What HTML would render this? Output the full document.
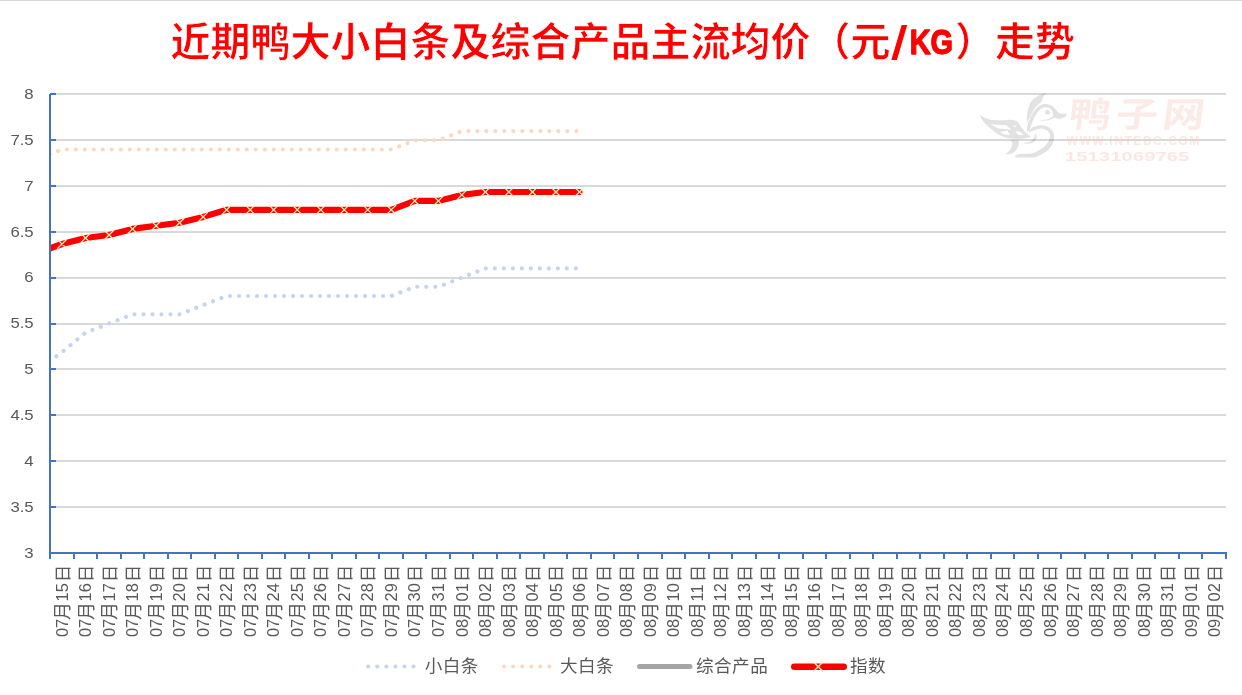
<!DOCTYPE html>
<html lang="zh-CN"><head><meta charset="utf-8"><title>近期鸭大小白条及综合产品主流均价（元/KG）走势</title>
<style>html,body{margin:0;padding:0;background:#fff;}body{width:1242px;height:695px;overflow:hidden;}svg{display:block;will-change:transform;}text{font-family:'Liberation Sans','Noto Sans CJK SC',sans-serif;}</style>
</head><body>
<svg width="1242" height="695" viewBox="0 0 1242 695">
<rect width="1242" height="695" fill="#fff"/>
<rect x="0" y="0" width="1242" height="1" fill="#D9D9D9"/>
<defs><clipPath id="plot"><rect x="50" y="84" width="1186" height="479"/></clipPath></defs>
<g fill="#D9D9D9">
<rect x="51" y="93" width="1175" height="2"/>
<rect x="51" y="139" width="1175" height="2"/>
<rect x="51" y="185" width="1175" height="2"/>
<rect x="51" y="231" width="1175" height="2"/>
<rect x="51" y="277" width="1175" height="2"/>
<rect x="51" y="323" width="1175" height="2"/>
<rect x="51" y="368" width="1175" height="2"/>
<rect x="51" y="414" width="1175" height="2"/>
<rect x="51" y="460" width="1175" height="2"/>
<rect x="51" y="506" width="1175" height="2"/>
</g>
<g id="title" font-weight="bold" fill="#FF0000">
<text x="170.4" y="56" font-size="40" stroke="#fff" stroke-width="0.7">近期鸭大小白条及综合产品主流均价（元</text>
<text font-size="47" transform="translate(891 58.9) skewX(-6)">/</text>
<text font-size="35.5" stroke="#FF0000" stroke-width="1.3" stroke-linejoin="round" transform="translate(909.7 53.7) scale(0.815 1)">KG</text>
<text x="955.1" y="56" font-size="40" stroke="#fff" stroke-width="0.7">）走势</text>
</g>
<g font-size="15.4" fill="#595959" text-anchor="end">
<text transform="translate(33.7 98.80) scale(1.09 1)">8</text>
<text transform="translate(33.7 144.70) scale(1.09 1)">7.5</text>
<text transform="translate(33.7 190.60) scale(1.09 1)">7</text>
<text transform="translate(33.7 236.50) scale(1.09 1)">6.5</text>
<text transform="translate(33.7 282.40) scale(1.09 1)">6</text>
<text transform="translate(33.7 328.30) scale(1.09 1)">5.5</text>
<text transform="translate(33.7 374.20) scale(1.09 1)">5</text>
<text transform="translate(33.7 420.10) scale(1.09 1)">4.5</text>
<text transform="translate(33.7 466.00) scale(1.09 1)">4</text>
<text transform="translate(33.7 511.90) scale(1.09 1)">3.5</text>
<text transform="translate(33.7 557.80) scale(1.09 1)">3</text>
</g>
<g clip-path="url(#plot)" fill="none" stroke-linejoin="round">
<path id="sblue" d="M38.49 369.40 L62.01 352.10 L85.53 332.70 L109.05 323.50 L132.57 314.30 L156.09 314.30 L179.61 314.30 L203.13 305.10 L226.65 296.00 L250.17 296.00 L273.69 296.00 L297.21 296.00 L320.73 296.00 L344.25 296.00 L367.77 296.00 L391.29 296.00 L414.81 286.80 L438.33 286.80 L461.85 277.60 L485.37 268.40 L508.89 268.40 L532.41 268.40 L555.93 268.40 L579.45 268.40" stroke="#C6D4ED" stroke-width="4.2" stroke-linecap="round" stroke-dasharray="0.01 8.99" stroke-dashoffset="4.9"/>
<path id="sorange" d="M38.49 158.66 L62.01 149.48 L85.53 149.48 L109.05 149.48 L132.57 149.48 L156.09 149.48 L179.61 149.48 L203.13 149.48 L226.65 149.48 L250.17 149.48 L273.69 149.48 L297.21 149.48 L320.73 149.48 L344.25 149.48 L367.77 149.48 L391.29 149.48 L414.81 140.30 L438.33 140.30 L461.85 131.12 L485.37 131.12 L508.89 131.12 L532.41 131.12 L555.93 131.12 L579.45 131.12" stroke="#FAD8C1" stroke-width="4.2" stroke-linecap="round" stroke-dasharray="0.01 8.99" stroke-dashoffset="6.0"/>
<path id="sgray" d="M38.49 252.62 L62.01 244.00 L85.53 238.00 L109.05 235.00 L132.57 228.90 L156.09 225.80 L179.61 222.75 L203.13 216.90 L226.65 209.80 L250.17 209.80 L273.69 209.80 L297.21 209.80 L320.73 209.80 L344.25 209.80 L367.77 209.80 L391.29 209.80 L414.81 200.90 L438.33 200.90 L461.85 194.90 L485.37 192.00 L508.89 192.00 L532.41 192.00 L555.93 192.00 L579.45 192.00" stroke="#A5A5A5" stroke-width="3" stroke-linecap="round"/>
<path id="sred" d="M38.49 252.62 L62.01 244.00 L85.53 238.00 L109.05 235.00 L132.57 228.90 L156.09 225.80 L179.61 222.75 L203.13 216.90 L226.65 209.80 L250.17 209.80 L273.69 209.80 L297.21 209.80 L320.73 209.80 L344.25 209.80 L367.77 209.80 L391.29 209.80 L414.81 200.90 L438.33 200.90 L461.85 194.90 L485.37 192.00 L508.89 192.00 L532.41 192.00 L555.93 192.00 L579.45 192.00" stroke="#FF0000" stroke-width="6.2" stroke-linecap="round"/>
<path d="M57.21 239.20l9.6 9.6M57.21 248.80l9.6 -9.6M80.73 233.20l9.6 9.6M80.73 242.80l9.6 -9.6M104.25 230.20l9.6 9.6M104.25 239.80l9.6 -9.6M127.77 224.10l9.6 9.6M127.77 233.70l9.6 -9.6M151.29 221.00l9.6 9.6M151.29 230.60l9.6 -9.6M174.81 217.95l9.6 9.6M174.81 227.55l9.6 -9.6M198.33 212.10l9.6 9.6M198.33 221.70l9.6 -9.6M221.85 205.00l9.6 9.6M221.85 214.60l9.6 -9.6M245.37 205.00l9.6 9.6M245.37 214.60l9.6 -9.6M268.89 205.00l9.6 9.6M268.89 214.60l9.6 -9.6M292.41 205.00l9.6 9.6M292.41 214.60l9.6 -9.6M315.93 205.00l9.6 9.6M315.93 214.60l9.6 -9.6M339.45 205.00l9.6 9.6M339.45 214.60l9.6 -9.6M362.97 205.00l9.6 9.6M362.97 214.60l9.6 -9.6M386.49 205.00l9.6 9.6M386.49 214.60l9.6 -9.6M410.01 196.10l9.6 9.6M410.01 205.70l9.6 -9.6M433.53 196.10l9.6 9.6M433.53 205.70l9.6 -9.6M457.05 190.10l9.6 9.6M457.05 199.70l9.6 -9.6M480.57 187.20l9.6 9.6M480.57 196.80l9.6 -9.6M504.09 187.20l9.6 9.6M504.09 196.80l9.6 -9.6M527.61 187.20l9.6 9.6M527.61 196.80l9.6 -9.6M551.13 187.20l9.6 9.6M551.13 196.80l9.6 -9.6M574.65 187.20l9.6 9.6M574.65 196.80l9.6 -9.6" stroke="#FFEBB8" stroke-width="1.25" stroke-linecap="butt"/>
</g>
<g fill="#4472C4">
<rect x="49" y="94" width="2" height="465"/>
<rect x="49" y="552" width="1178" height="2"/>
<rect x="50" y="93" width="6" height="2"/>
<rect x="50" y="139" width="6" height="2"/>
<rect x="50" y="185" width="6" height="2"/>
<rect x="50" y="231" width="6" height="2"/>
<rect x="50" y="277" width="6" height="2"/>
<rect x="50" y="323" width="6" height="2"/>
<rect x="50" y="368" width="6" height="2"/>
<rect x="50" y="414" width="6" height="2"/>
<rect x="50" y="460" width="6" height="2"/>
<rect x="50" y="506" width="6" height="2"/>
<rect x="73" y="553" width="2" height="6"/>
<rect x="96" y="553" width="2" height="6"/>
<rect x="120" y="553" width="2" height="6"/>
<rect x="143" y="553" width="2" height="6"/>
<rect x="167" y="553" width="2" height="6"/>
<rect x="190" y="553" width="2" height="6"/>
<rect x="214" y="553" width="2" height="6"/>
<rect x="237" y="553" width="2" height="6"/>
<rect x="261" y="553" width="2" height="6"/>
<rect x="284" y="553" width="2" height="6"/>
<rect x="308" y="553" width="2" height="6"/>
<rect x="331" y="553" width="2" height="6"/>
<rect x="355" y="553" width="2" height="6"/>
<rect x="378" y="553" width="2" height="6"/>
<rect x="402" y="553" width="2" height="6"/>
<rect x="425" y="553" width="2" height="6"/>
<rect x="449" y="553" width="2" height="6"/>
<rect x="472" y="553" width="2" height="6"/>
<rect x="496" y="553" width="2" height="6"/>
<rect x="519" y="553" width="2" height="6"/>
<rect x="543" y="553" width="2" height="6"/>
<rect x="566" y="553" width="2" height="6"/>
<rect x="590" y="553" width="2" height="6"/>
<rect x="613" y="553" width="2" height="6"/>
<rect x="637" y="553" width="2" height="6"/>
<rect x="661" y="553" width="2" height="6"/>
<rect x="684" y="553" width="2" height="6"/>
<rect x="708" y="553" width="2" height="6"/>
<rect x="731" y="553" width="2" height="6"/>
<rect x="755" y="553" width="2" height="6"/>
<rect x="778" y="553" width="2" height="6"/>
<rect x="802" y="553" width="2" height="6"/>
<rect x="825" y="553" width="2" height="6"/>
<rect x="849" y="553" width="2" height="6"/>
<rect x="872" y="553" width="2" height="6"/>
<rect x="896" y="553" width="2" height="6"/>
<rect x="919" y="553" width="2" height="6"/>
<rect x="943" y="553" width="2" height="6"/>
<rect x="966" y="553" width="2" height="6"/>
<rect x="990" y="553" width="2" height="6"/>
<rect x="1013" y="553" width="2" height="6"/>
<rect x="1037" y="553" width="2" height="6"/>
<rect x="1060" y="553" width="2" height="6"/>
<rect x="1084" y="553" width="2" height="6"/>
<rect x="1107" y="553" width="2" height="6"/>
<rect x="1131" y="553" width="2" height="6"/>
<rect x="1154" y="553" width="2" height="6"/>
<rect x="1178" y="553" width="2" height="6"/>
<rect x="1201" y="553" width="2" height="6"/>
<rect x="1225" y="553" width="2" height="6"/>
</g>
<g font-size="16.4" fill="#595959">
<text transform="translate(67.66 637) rotate(-90)"><tspan x="0" y="0">07</tspan><tspan x="16.9" y="1.5" font-size="18">月</tspan><tspan x="35.6" y="0">15</tspan><tspan x="54.8" y="0.9" font-size="17.6">日</tspan></text>
<text transform="translate(91.18 637) rotate(-90)"><tspan x="0" y="0">07</tspan><tspan x="16.9" y="1.5" font-size="18">月</tspan><tspan x="35.6" y="0">16</tspan><tspan x="54.8" y="0.9" font-size="17.6">日</tspan></text>
<text transform="translate(114.70 637) rotate(-90)"><tspan x="0" y="0">07</tspan><tspan x="16.9" y="1.5" font-size="18">月</tspan><tspan x="35.6" y="0">17</tspan><tspan x="54.8" y="0.9" font-size="17.6">日</tspan></text>
<text transform="translate(138.22 637) rotate(-90)"><tspan x="0" y="0">07</tspan><tspan x="16.9" y="1.5" font-size="18">月</tspan><tspan x="35.6" y="0">18</tspan><tspan x="54.8" y="0.9" font-size="17.6">日</tspan></text>
<text transform="translate(161.74 637) rotate(-90)"><tspan x="0" y="0">07</tspan><tspan x="16.9" y="1.5" font-size="18">月</tspan><tspan x="35.6" y="0">19</tspan><tspan x="54.8" y="0.9" font-size="17.6">日</tspan></text>
<text transform="translate(185.26 637) rotate(-90)"><tspan x="0" y="0">07</tspan><tspan x="16.9" y="1.5" font-size="18">月</tspan><tspan x="35.6" y="0">20</tspan><tspan x="54.8" y="0.9" font-size="17.6">日</tspan></text>
<text transform="translate(208.78 637) rotate(-90)"><tspan x="0" y="0">07</tspan><tspan x="16.9" y="1.5" font-size="18">月</tspan><tspan x="35.6" y="0">21</tspan><tspan x="54.8" y="0.9" font-size="17.6">日</tspan></text>
<text transform="translate(232.30 637) rotate(-90)"><tspan x="0" y="0">07</tspan><tspan x="16.9" y="1.5" font-size="18">月</tspan><tspan x="35.6" y="0">22</tspan><tspan x="54.8" y="0.9" font-size="17.6">日</tspan></text>
<text transform="translate(255.82 637) rotate(-90)"><tspan x="0" y="0">07</tspan><tspan x="16.9" y="1.5" font-size="18">月</tspan><tspan x="35.6" y="0">23</tspan><tspan x="54.8" y="0.9" font-size="17.6">日</tspan></text>
<text transform="translate(279.34 637) rotate(-90)"><tspan x="0" y="0">07</tspan><tspan x="16.9" y="1.5" font-size="18">月</tspan><tspan x="35.6" y="0">24</tspan><tspan x="54.8" y="0.9" font-size="17.6">日</tspan></text>
<text transform="translate(302.86 637) rotate(-90)"><tspan x="0" y="0">07</tspan><tspan x="16.9" y="1.5" font-size="18">月</tspan><tspan x="35.6" y="0">25</tspan><tspan x="54.8" y="0.9" font-size="17.6">日</tspan></text>
<text transform="translate(326.38 637) rotate(-90)"><tspan x="0" y="0">07</tspan><tspan x="16.9" y="1.5" font-size="18">月</tspan><tspan x="35.6" y="0">26</tspan><tspan x="54.8" y="0.9" font-size="17.6">日</tspan></text>
<text transform="translate(349.90 637) rotate(-90)"><tspan x="0" y="0">07</tspan><tspan x="16.9" y="1.5" font-size="18">月</tspan><tspan x="35.6" y="0">27</tspan><tspan x="54.8" y="0.9" font-size="17.6">日</tspan></text>
<text transform="translate(373.42 637) rotate(-90)"><tspan x="0" y="0">07</tspan><tspan x="16.9" y="1.5" font-size="18">月</tspan><tspan x="35.6" y="0">28</tspan><tspan x="54.8" y="0.9" font-size="17.6">日</tspan></text>
<text transform="translate(396.94 637) rotate(-90)"><tspan x="0" y="0">07</tspan><tspan x="16.9" y="1.5" font-size="18">月</tspan><tspan x="35.6" y="0">29</tspan><tspan x="54.8" y="0.9" font-size="17.6">日</tspan></text>
<text transform="translate(420.46 637) rotate(-90)"><tspan x="0" y="0">07</tspan><tspan x="16.9" y="1.5" font-size="18">月</tspan><tspan x="35.6" y="0">30</tspan><tspan x="54.8" y="0.9" font-size="17.6">日</tspan></text>
<text transform="translate(443.98 637) rotate(-90)"><tspan x="0" y="0">07</tspan><tspan x="16.9" y="1.5" font-size="18">月</tspan><tspan x="35.6" y="0">31</tspan><tspan x="54.8" y="0.9" font-size="17.6">日</tspan></text>
<text transform="translate(467.50 637) rotate(-90)"><tspan x="0" y="0">08</tspan><tspan x="16.9" y="1.5" font-size="18">月</tspan><tspan x="35.6" y="0">01</tspan><tspan x="54.8" y="0.9" font-size="17.6">日</tspan></text>
<text transform="translate(491.02 637) rotate(-90)"><tspan x="0" y="0">08</tspan><tspan x="16.9" y="1.5" font-size="18">月</tspan><tspan x="35.6" y="0">02</tspan><tspan x="54.8" y="0.9" font-size="17.6">日</tspan></text>
<text transform="translate(514.54 637) rotate(-90)"><tspan x="0" y="0">08</tspan><tspan x="16.9" y="1.5" font-size="18">月</tspan><tspan x="35.6" y="0">03</tspan><tspan x="54.8" y="0.9" font-size="17.6">日</tspan></text>
<text transform="translate(538.06 637) rotate(-90)"><tspan x="0" y="0">08</tspan><tspan x="16.9" y="1.5" font-size="18">月</tspan><tspan x="35.6" y="0">04</tspan><tspan x="54.8" y="0.9" font-size="17.6">日</tspan></text>
<text transform="translate(561.58 637) rotate(-90)"><tspan x="0" y="0">08</tspan><tspan x="16.9" y="1.5" font-size="18">月</tspan><tspan x="35.6" y="0">05</tspan><tspan x="54.8" y="0.9" font-size="17.6">日</tspan></text>
<text transform="translate(585.10 637) rotate(-90)"><tspan x="0" y="0">08</tspan><tspan x="16.9" y="1.5" font-size="18">月</tspan><tspan x="35.6" y="0">06</tspan><tspan x="54.8" y="0.9" font-size="17.6">日</tspan></text>
<text transform="translate(608.62 637) rotate(-90)"><tspan x="0" y="0">08</tspan><tspan x="16.9" y="1.5" font-size="18">月</tspan><tspan x="35.6" y="0">07</tspan><tspan x="54.8" y="0.9" font-size="17.6">日</tspan></text>
<text transform="translate(632.14 637) rotate(-90)"><tspan x="0" y="0">08</tspan><tspan x="16.9" y="1.5" font-size="18">月</tspan><tspan x="35.6" y="0">08</tspan><tspan x="54.8" y="0.9" font-size="17.6">日</tspan></text>
<text transform="translate(655.66 637) rotate(-90)"><tspan x="0" y="0">08</tspan><tspan x="16.9" y="1.5" font-size="18">月</tspan><tspan x="35.6" y="0">09</tspan><tspan x="54.8" y="0.9" font-size="17.6">日</tspan></text>
<text transform="translate(679.18 637) rotate(-90)"><tspan x="0" y="0">08</tspan><tspan x="16.9" y="1.5" font-size="18">月</tspan><tspan x="35.6" y="0">10</tspan><tspan x="54.8" y="0.9" font-size="17.6">日</tspan></text>
<text transform="translate(702.70 637) rotate(-90)"><tspan x="0" y="0">08</tspan><tspan x="16.9" y="1.5" font-size="18">月</tspan><tspan x="35.6" y="0">11</tspan><tspan x="54.8" y="0.9" font-size="17.6">日</tspan></text>
<text transform="translate(726.22 637) rotate(-90)"><tspan x="0" y="0">08</tspan><tspan x="16.9" y="1.5" font-size="18">月</tspan><tspan x="35.6" y="0">12</tspan><tspan x="54.8" y="0.9" font-size="17.6">日</tspan></text>
<text transform="translate(749.74 637) rotate(-90)"><tspan x="0" y="0">08</tspan><tspan x="16.9" y="1.5" font-size="18">月</tspan><tspan x="35.6" y="0">13</tspan><tspan x="54.8" y="0.9" font-size="17.6">日</tspan></text>
<text transform="translate(773.26 637) rotate(-90)"><tspan x="0" y="0">08</tspan><tspan x="16.9" y="1.5" font-size="18">月</tspan><tspan x="35.6" y="0">14</tspan><tspan x="54.8" y="0.9" font-size="17.6">日</tspan></text>
<text transform="translate(796.78 637) rotate(-90)"><tspan x="0" y="0">08</tspan><tspan x="16.9" y="1.5" font-size="18">月</tspan><tspan x="35.6" y="0">15</tspan><tspan x="54.8" y="0.9" font-size="17.6">日</tspan></text>
<text transform="translate(820.30 637) rotate(-90)"><tspan x="0" y="0">08</tspan><tspan x="16.9" y="1.5" font-size="18">月</tspan><tspan x="35.6" y="0">16</tspan><tspan x="54.8" y="0.9" font-size="17.6">日</tspan></text>
<text transform="translate(843.82 637) rotate(-90)"><tspan x="0" y="0">08</tspan><tspan x="16.9" y="1.5" font-size="18">月</tspan><tspan x="35.6" y="0">17</tspan><tspan x="54.8" y="0.9" font-size="17.6">日</tspan></text>
<text transform="translate(867.34 637) rotate(-90)"><tspan x="0" y="0">08</tspan><tspan x="16.9" y="1.5" font-size="18">月</tspan><tspan x="35.6" y="0">18</tspan><tspan x="54.8" y="0.9" font-size="17.6">日</tspan></text>
<text transform="translate(890.86 637) rotate(-90)"><tspan x="0" y="0">08</tspan><tspan x="16.9" y="1.5" font-size="18">月</tspan><tspan x="35.6" y="0">19</tspan><tspan x="54.8" y="0.9" font-size="17.6">日</tspan></text>
<text transform="translate(914.38 637) rotate(-90)"><tspan x="0" y="0">08</tspan><tspan x="16.9" y="1.5" font-size="18">月</tspan><tspan x="35.6" y="0">20</tspan><tspan x="54.8" y="0.9" font-size="17.6">日</tspan></text>
<text transform="translate(937.90 637) rotate(-90)"><tspan x="0" y="0">08</tspan><tspan x="16.9" y="1.5" font-size="18">月</tspan><tspan x="35.6" y="0">21</tspan><tspan x="54.8" y="0.9" font-size="17.6">日</tspan></text>
<text transform="translate(961.42 637) rotate(-90)"><tspan x="0" y="0">08</tspan><tspan x="16.9" y="1.5" font-size="18">月</tspan><tspan x="35.6" y="0">22</tspan><tspan x="54.8" y="0.9" font-size="17.6">日</tspan></text>
<text transform="translate(984.94 637) rotate(-90)"><tspan x="0" y="0">08</tspan><tspan x="16.9" y="1.5" font-size="18">月</tspan><tspan x="35.6" y="0">23</tspan><tspan x="54.8" y="0.9" font-size="17.6">日</tspan></text>
<text transform="translate(1008.46 637) rotate(-90)"><tspan x="0" y="0">08</tspan><tspan x="16.9" y="1.5" font-size="18">月</tspan><tspan x="35.6" y="0">24</tspan><tspan x="54.8" y="0.9" font-size="17.6">日</tspan></text>
<text transform="translate(1031.98 637) rotate(-90)"><tspan x="0" y="0">08</tspan><tspan x="16.9" y="1.5" font-size="18">月</tspan><tspan x="35.6" y="0">25</tspan><tspan x="54.8" y="0.9" font-size="17.6">日</tspan></text>
<text transform="translate(1055.50 637) rotate(-90)"><tspan x="0" y="0">08</tspan><tspan x="16.9" y="1.5" font-size="18">月</tspan><tspan x="35.6" y="0">26</tspan><tspan x="54.8" y="0.9" font-size="17.6">日</tspan></text>
<text transform="translate(1079.02 637) rotate(-90)"><tspan x="0" y="0">08</tspan><tspan x="16.9" y="1.5" font-size="18">月</tspan><tspan x="35.6" y="0">27</tspan><tspan x="54.8" y="0.9" font-size="17.6">日</tspan></text>
<text transform="translate(1102.54 637) rotate(-90)"><tspan x="0" y="0">08</tspan><tspan x="16.9" y="1.5" font-size="18">月</tspan><tspan x="35.6" y="0">28</tspan><tspan x="54.8" y="0.9" font-size="17.6">日</tspan></text>
<text transform="translate(1126.06 637) rotate(-90)"><tspan x="0" y="0">08</tspan><tspan x="16.9" y="1.5" font-size="18">月</tspan><tspan x="35.6" y="0">29</tspan><tspan x="54.8" y="0.9" font-size="17.6">日</tspan></text>
<text transform="translate(1149.58 637) rotate(-90)"><tspan x="0" y="0">08</tspan><tspan x="16.9" y="1.5" font-size="18">月</tspan><tspan x="35.6" y="0">30</tspan><tspan x="54.8" y="0.9" font-size="17.6">日</tspan></text>
<text transform="translate(1173.10 637) rotate(-90)"><tspan x="0" y="0">08</tspan><tspan x="16.9" y="1.5" font-size="18">月</tspan><tspan x="35.6" y="0">31</tspan><tspan x="54.8" y="0.9" font-size="17.6">日</tspan></text>
<text transform="translate(1196.62 637) rotate(-90)"><tspan x="0" y="0">09</tspan><tspan x="16.9" y="1.5" font-size="18">月</tspan><tspan x="35.6" y="0">01</tspan><tspan x="54.8" y="0.9" font-size="17.6">日</tspan></text>
<text transform="translate(1220.14 637) rotate(-90)"><tspan x="0" y="0">09</tspan><tspan x="16.9" y="1.5" font-size="18">月</tspan><tspan x="35.6" y="0">02</tspan><tspan x="54.8" y="0.9" font-size="17.6">日</tspan></text>
</g>
<g fill="none" stroke-linecap="round">
<path d="M368.2 666.5 H414" stroke="#C6D4ED" stroke-width="4.2" stroke-dasharray="0.01 9.05"/>
<path d="M504.1 666.5 H550" stroke="#FAD8C1" stroke-width="4.2" stroke-dasharray="0.01 9.05"/>
<path d="M639.5 666.5 H690" stroke="#A5A5A5" stroke-width="5"/>
<path d="M794.2 666.8 H843.8" stroke="#FF0000" stroke-width="6.4"/>
<path d="M813.2 661.8 l10 10M813.2 671.8 l10 -10" stroke="#FFEBB8" stroke-width="1.4" stroke-linecap="butt"/>
</g>
<g font-size="17.6" letter-spacing="0.45" fill="#595959">
<text x="424.7" y="672.1">小白条</text>
<text x="560.0" y="672.1">大白条</text>
<text x="696.0" y="672.1">综合产品</text>
<text x="850.0" y="672.1">指数</text>
</g>
<g id="wm">
<g transform="translate(975 88) scale(0.10787)" fill="#000" fill-opacity="0.115" fill-rule="evenodd">
<path d="M677 39 C640 48 615 58 599 66 C560 86 530 110 515 135 C500 160 492 200 485 228 C481 260 479 300 479 327 C485 310 494 296 503 282 C512 262 522 242 533 222 C545 202 556 184 569 168 C585 150 600 140 614 129 C622 110 632 85 641 66 C652 55 665 46 677 39Z"/>
<path d="M602 299 C615 303 628 303 641 303 C656 303 670 302 683 300 C697 296 708 290 719 285 C726 280 731 275 737 273 C745 276 752 280 761 282 C775 285 790 285 803 282 C818 278 830 272 839 264 C847 256 853 246 857 236 C846 240 836 241 827 240 C813 240 800 240 791 237 C782 233 774 228 767 222 C758 212 750 202 743 192 C734 180 724 171 713 165 C700 157 686 152 671 150 C654 148 638 149 623 153 C605 159 589 168 575 180 C561 194 549 210 539 228 C527 245 517 263 509 282 C499 300 492 318 488 336 C483 360 481 385 483.6 410 C500 392 518 377 537 365 C558 353 580 346 604.5 345 C628 345 651 350 671.7 359 C692 369 708 382 718.7 399 C729 415 735 433 735.5 453 C735 474 730 494 722 513 C712 536 697 556 678.4 574 C657 594 632 609 604.5 621 C590 628 574 636 557.5 641 C495 645 432 645 369.4 643 L369.4 627 C385 621 400 616 416.5 612 C452 608 488 609 524 607 C548 602 570 593 591 580 C611 569 629 556 644.8 540 C661 524 675 506 685 486 C692 471 696 455 695 439 C693 425 687 412 678.4 402 C667 391 653 383 638 379 C622 375 606 376 591 379 C572 382 554 388 537.4 396 C524 402 512 409 500.4 415.8 C503 396 509 377 517 360 C522 343 527 327 532 312 C538 298 544 284 551 270 C558 256 566 243 574.8 231 C584 219 594 208 604.8 198 C616 190 628 184 640.8 180 C653 178 665 179 676.8 183 C688 187 698 193 706.8 201 C714 209 719 218 721.8 228 C724 236 725 244 724.8 252 C722 259 718 265 712.8 270 C703 277 693 283 682.8 287 C669 291 655 293 640.8 294 C628 296 615 298 602 299Z"/>
<circle cx="672.6" cy="225" r="22.8"/>
<path d="M44 247 C90 290 180 306 260 298 C320 291 372 290 396 316 C430 370 470 420 516 452 C460 476 380 477 320 466 C250 455 192 420 160 386 C110 350 60 300 44 247Z M138 337 L292 346 L336 386 L214 372Z M232 405 L300 396 L326 435 L266 428Z M347 352 L384 366 L372 346Z M377 400 L420 405 L450 438 L396 432Z"/>
<path d="M329 483 L403 486 C406 495 407 504 406.4 513 C405 527 402 541 396.3 553.5 C388 569 377 583 362.7 593.8 C349 604 333 611 315.7 614 L278.8 614 C292 606 305 597 315.7 587 C326 575 334 561 339.2 546.8 C344 534 346 520 346 506.5 C342 498 336 490 329 483Z"/>
<path d="M443.3 506.5 C461 507 479 506 497 503 C512 498 526 490 537.4 479.6 C548 463 554 443 557.5 422.5 C563 430 568 438 571 446 C572 458 569 469 564 479.6 C555 491 544 500 530.6 506.5 C516 512 500 515 483.6 516.6 C470 515 456 511 443.3 506.5Z"/>
</g>
<g fill="#F8C4B8" opacity="0.41">
<text font-size="35" font-weight="bold" fill-opacity="0.85" letter-spacing="3.9" transform="translate(1067.6 127) skewX(-7) scale(1.205 1)">鸭子网</text>
<text x="1066.5" y="145" font-size="12" font-weight="bold" letter-spacing="1.55">WWW.INTEDC.COM</text>
<text font-size="12" font-weight="bold" transform="translate(1064.8 161) scale(1.70 1)">15131069765</text>
</g>
</g>
</svg>
</body></html>
